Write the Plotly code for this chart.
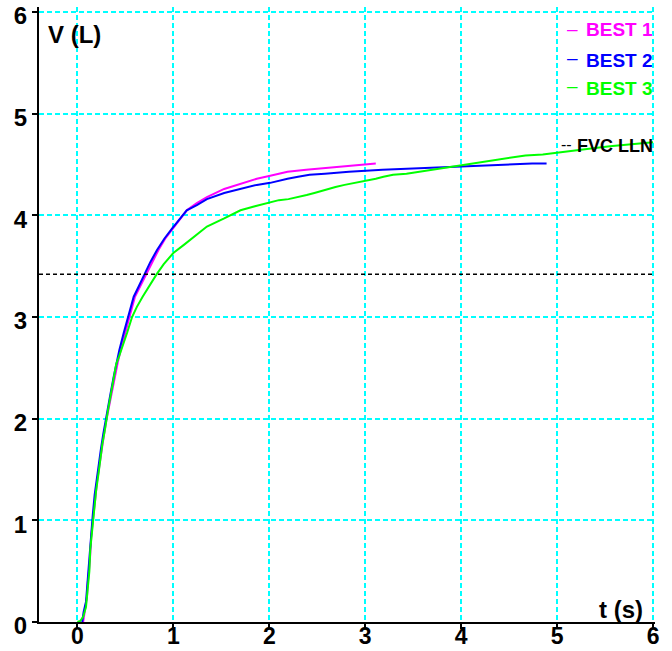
import plotly.graph_objects as go

# ---------------- data ----------------
best1_t = [0.06, 0.075, 0.10, 0.11, 0.13, 0.145, 0.165, 0.185, 0.205, 0.225, 0.25, 0.275, 0.305,
           0.345, 0.385, 0.42, 0.45, 0.495, 0.54, 0.60, 0.655, 0.715, 0.78, 0.845, 0.915, 0.995,
           1.06, 1.095, 1.14, 1.245, 1.35, 1.53, 1.70, 1.87, 2.01, 2.19, 2.385, 2.615, 2.85, 3.04, 3.11]
best1_v = [0.0, 0.1, 0.25, 0.4, 0.6, 0.85, 1.0, 1.2, 1.38, 1.52, 1.68, 1.83, 2.0,
           2.2, 2.4, 2.55, 2.67, 2.84, 2.99, 3.2, 3.3, 3.42, 3.54, 3.66, 3.77, 3.87,
           3.95, 4.0, 4.05, 4.12, 4.18, 4.26, 4.31, 4.36, 4.39, 4.43, 4.45, 4.47, 4.49, 4.51, 4.51]

best2_t = [0.05, 0.065, 0.09, 0.105, 0.125, 0.14, 0.16, 0.18, 0.20, 0.22, 0.245, 0.27, 0.30,
           0.34, 0.38, 0.41, 0.4375, 0.482, 0.524, 0.587, 0.639, 0.691, 0.76, 0.83, 0.906, 0.986,
           1.055, 1.09, 1.14, 1.245, 1.35, 1.53, 1.70, 1.87, 2.01, 2.13, 2.19, 2.30, 2.42, 2.58,
           2.83, 3.18, 3.68, 4.28, 4.74, 4.89]
best2_v = [0.0, 0.1, 0.2, 0.4, 0.6, 0.85, 1.05, 1.25, 1.4, 1.55, 1.7, 1.85, 2.02,
           2.22, 2.42, 2.56, 2.675, 2.84, 2.99, 3.2, 3.3, 3.41, 3.54, 3.66, 3.77, 3.87,
           3.95, 4.0, 4.05, 4.10, 4.16, 4.22, 4.26, 4.30, 4.32, 4.35, 4.36, 4.38, 4.40, 4.41,
           4.43, 4.45, 4.47, 4.49, 4.51, 4.51]

best3_t = [0.0, 0.03, 0.06, 0.09, 0.105, 0.125, 0.135, 0.155, 0.175, 0.195, 0.22, 0.24, 0.26,
           0.285, 0.30, 0.32, 0.345, 0.365, 0.385, 0.405, 0.43, 0.46, 0.52, 0.57, 0.62, 0.68,
           0.75, 0.825, 0.90, 1.0, 1.11, 1.20, 1.35, 1.53, 1.70, 1.85, 2.01, 2.10, 2.2, 2.31,
           2.39, 2.47, 2.54, 2.61, 2.69, 2.785, 2.9, 3.01, 3.11, 3.19, 3.29, 3.43, 3.57, 3.69,
           3.81, 3.94, 4.09, 4.25, 4.395, 4.525, 4.67, 4.85, 5.045, 5.2, 5.375, 5.55, 5.74,
           5.93, 6.0]
best3_v = [0.0, 0.01, 0.05, 0.15, 0.3, 0.5, 0.72, 0.93, 1.12, 1.29, 1.46, 1.64, 1.75,
           1.88, 1.99, 2.09, 2.22, 2.33, 2.45, 2.54, 2.6, 2.68, 2.85, 3.0, 3.1, 3.2,
           3.31, 3.42, 3.52, 3.63, 3.71, 3.78, 3.89, 3.97, 4.05, 4.09, 4.13, 4.15, 4.16, 4.18,
           4.20, 4.22, 4.24, 4.26, 4.28, 4.30, 4.32, 4.34, 4.36, 4.38, 4.40, 4.41, 4.43, 4.45,
           4.47, 4.49, 4.51, 4.53, 4.55, 4.57, 4.59, 4.60, 4.62, 4.64, 4.66, 4.68, 4.70,
           4.72, 4.72]

fvc_lln = 3.42

series_names = ["BEST 1", "BEST 2", "BEST 3"]
series_colors = ["#FF00FF", "#0000FF", "#00FF00"]

x_ticks = [0, 1, 2, 3, 4, 5, 6]
y_ticks = [0, 1, 2, 3, 4, 5, 6]

# ---------------- figure ----------------
W, H = 672, 651
ML, MR, MT, MB = 39, 17, 7, 29
PW, PH = W - ML - MR, H - MT - MB


def px(xp):
    return (xp - ML) / PW


def py(yp):
    return (H - MB - yp) / PH


fig = go.Figure()
for t, v, name, col in zip([best1_t, best2_t, best3_t], [best1_v, best2_v, best3_v],
                           series_names, series_colors):
    fig.add_trace(go.Scatter(x=t, y=v, mode="lines", name=name,
                             line=dict(color=col, width=2), showlegend=False,
                             hoverinfo="skip"))

fig.add_hline(y=fvc_lln, line=dict(color="black", width=1.5, dash="4px,3px"))

FONT = "Liberation Sans"
TICKFONT = "Liberation Sans Narrow, Liberation Sans, Arial, sans-serif"
axis_common = dict(
    showgrid=True, gridcolor="#00FFFF", gridwidth=2, griddash="5px,3px",
    showline=True, linecolor="black", linewidth=2, automargin=False,
    zeroline=False, ticks="outside", ticklen=5, tickwidth=2, tickcolor="black",
)

fig.update_xaxes(range=[-0.4, 6.02], tickvals=x_ticks, ticklabelstandoff=-13,
                 tickfont=dict(family=TICKFONT, size=23, color="black", weight="bold"),
                 **axis_common)
fig.update_yaxes(range=[0, 6.05], tickvals=y_ticks, ticklabelstandoff=0, ticklabelshift=4,
                 tickfont=dict(family=TICKFONT, size=24, color="black", weight="bold"),
                 **axis_common)

annotations = []
# axis titles inside plot
annotations.append(dict(text="<b>V (L)</b>", x=px(46), y=py(34), xref="paper", yref="paper",
                        xanchor="left", yanchor="middle", showarrow=False,
                        font=dict(family=FONT, size=24, color="black")))
annotations.append(dict(text="<b>t (s)</b>", x=px(597), y=py(609), xref="paper", yref="paper",
                        xanchor="left", yanchor="middle", showarrow=False,
                        font=dict(family=FONT, size=24, color="black")))
# legend
leg_y = [30, 60, 89]
dash_y = [28, 57, 86]
for name, col, ty, dy in zip(series_names, series_colors, leg_y, dash_y):
    annotations.append(dict(text="<b>" + name + "</b>", x=px(584), y=py(ty), xref="paper",
                            yref="paper", xanchor="left", yanchor="middle", showarrow=False,
                            font=dict(family=FONT, size=19, color=col)))
    annotations.append(dict(text="–", x=px(572), y=py(dy), xref="paper",
                            yref="paper", xanchor="center", yanchor="middle", showarrow=False,
                            font=dict(family=FONT, size=19, color=col)))
annotations.append(dict(text="<b>FVC LLN</b>", x=px(575), y=py(146), xref="paper", yref="paper",
                        xanchor="left", yanchor="middle", showarrow=False,
                        font=dict(family=FONT, size=18, color="black")))
annotations.append(dict(text="--", x=px(566), y=py(144), xref="paper", yref="paper",
                        xanchor="center", yanchor="middle", showarrow=False,
                        font=dict(family=FONT, size=16, color="black")))

fig.update_layout(
    width=W, height=H,
    margin=dict(l=ML, r=MR, t=MT, b=MB, pad=0),
    paper_bgcolor="white", plot_bgcolor="white",
    annotations=annotations,
    showlegend=False,
    hovermode=False,
)

fig.write_html("out.html", config={"displayModeBar": False, "staticPlot": True},
               post_script="document.body.style.margin='0';document.body.style.overflow='hidden';")
